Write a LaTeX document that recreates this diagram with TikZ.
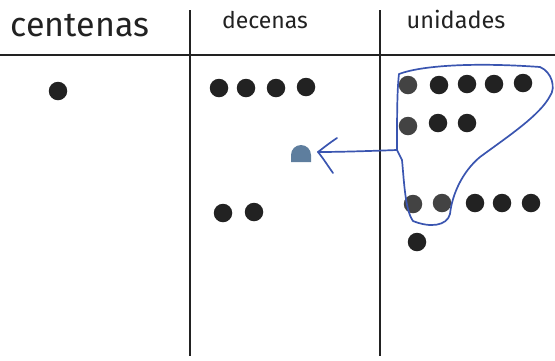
\documentclass[tikz,border=0pt]{standalone}
\usepackage{fontspec}
\setmainfont{Fira Sans}
\definecolor{ink}{HTML}{222222}
\definecolor{pen}{HTML}{3A55B0}
\definecolor{moved}{HTML}{5E7E9E}
\tikzset{
  rule/.style={draw=ink, line width=2.2pt},
  dot/.style={circle, fill=ink, minimum size=18.5pt, inner sep=0pt},
  gdot/.style={circle, fill=ink!85, minimum size=18.5pt, inner sep=0pt},
  head/.style={anchor=base, text=ink},
  lasso/.style={draw=pen, line width=1.7pt, line join=round, line cap=round},
}
\begin{document}
\begin{tikzpicture}[x=1pt,y=-1pt]
\useasboundingbox (0,0) rectangle (555,360);
% table rules
\coordinate (hl) at (0,55); \coordinate (hr) at (555,55);
\draw[rule] (hl) -- (hr);
\coordinate (v1t) at (190,10); \coordinate (v1b) at (190,356);
\coordinate (v2t) at (380,10); \coordinate (v2b) at (380,356);
\draw[rule] (v1t) -- (v1b);
\draw[rule] (v2t) -- (v2b);
% headers
\node[head, font=\fontsize{34}{34}\selectfont] (hc) at (80,36) {centenas};
\node[head, font=\fontsize{23}{23}\selectfont] (hd) at (265,28) {decenas};
\node[head, font=\fontsize{23.5}{23.5}\selectfont] (hu) at (456,28) {unidades};
% centenas
\node[dot] (c1) at (58,91) {};
% decenas
\node[dot] (d1) at (219,88) {};
\node[dot] (d2) at (246,88) {};
\node[dot] (d3) at (276,88) {};
\node[dot] (d4) at (306,87) {};
\node[dot] (d5) at (223,213) {};
\node[dot] (d6) at (254,212) {};
% new ten
\path[fill=moved] (291,162) -- (291,155) arc[start angle=180, end angle=0, radius=10pt] -- (311,162) -- cycle;
\node[inner sep=0pt, minimum size=20pt] (nt) at (301,155) {};
% unidades
\node[gdot] (u1) at (408,85) {};
\node[dot] (u2) at (439,85) {};
\node[dot] (u3) at (467,84) {};
\node[dot] (u4) at (494,84) {};
\node[dot] (u5) at (523,83) {};
\node[gdot] (u6) at (408,126) {};
\node[dot] (u7) at (438,123) {};
\node[dot] (u8) at (467,123) {};
\node[gdot] (u9) at (413,204) {};
\node[gdot] (u10) at (442,203) {};
\node[dot] (u11) at (475,203) {};
\node[dot] (u12) at (502,203) {};
\node[dot] (u13) at (531,203) {};
\node[dot] (u14) at (417,242) {};
% lasso
\coordinate (ls) at (397,150);
\draw[lasso] (ls) .. controls (397,120) and (397,90) .. (399,74)
  .. controls (420,66) and (470,62) .. (540,67)
  .. controls (552,72) and (556,88) .. (550,96)
  .. controls (540,115) and (510,135) .. (480,157)
  .. controls (462,172) and (452,195) .. (450,214)
  .. controls (447,226) and (430,228) .. (413,221)
  .. controls (405,210) and (404,180) .. (402,160)
  -- (ls);
% arrow
\coordinate (tip) at (318,152);
\coordinate (wa) at (337,138);
\coordinate (wb) at (333,173);
\draw[lasso] (ls) .. controls (370,151) and (340,152) .. (tip);
\draw[lasso] (wa) .. controls (328,144) and (322,149) .. (tip) .. controls (323,158) and (328,166) .. (wb);
\end{tikzpicture}
\end{document}
